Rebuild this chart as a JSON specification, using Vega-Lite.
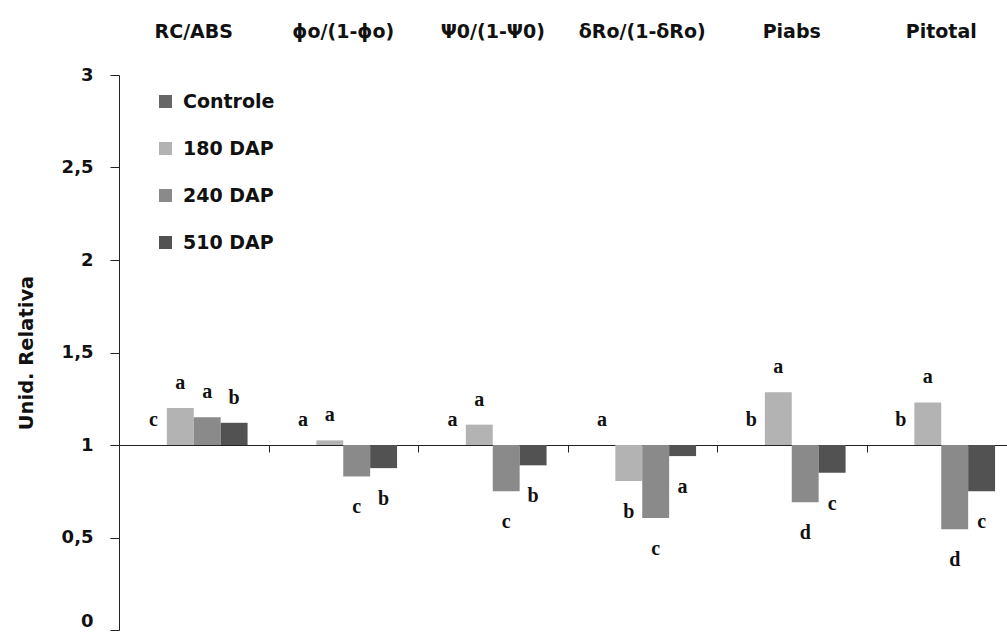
{
  "$schema": "https://vega.github.io/schema/vega-lite/v6.json",
  "width": 888,
  "height": 555,
  "autosize": {"type": "none"},
  "padding": {"left": 119, "top": 75, "right": 0, "bottom": 5},
  "background": "white",
  "config": {"view": {"stroke": null}, "font": "DejaVu Sans"},
  "data": {
    "values": [
      {"parametro": "RC/ABS", "trat": "Controle", "valor": 1.0, "letra": "c"},
      {"parametro": "RC/ABS", "trat": "180 DAP", "valor": 1.2, "letra": "a"},
      {"parametro": "RC/ABS", "trat": "240 DAP", "valor": 1.15, "letra": "a"},
      {"parametro": "RC/ABS", "trat": "510 DAP", "valor": 1.12, "letra": "b"},
      {"parametro": "ϕo/(1-ϕo)", "trat": "Controle", "valor": 1.0, "letra": "a"},
      {"parametro": "ϕo/(1-ϕo)", "trat": "180 DAP", "valor": 1.025, "letra": "a"},
      {"parametro": "ϕo/(1-ϕo)", "trat": "240 DAP", "valor": 0.83, "letra": "c"},
      {"parametro": "ϕo/(1-ϕo)", "trat": "510 DAP", "valor": 0.875, "letra": "b"},
      {"parametro": "Ψ0/(1-Ψ0)", "trat": "Controle", "valor": 1.0, "letra": "a"},
      {"parametro": "Ψ0/(1-Ψ0)", "trat": "180 DAP", "valor": 1.11, "letra": "a"},
      {"parametro": "Ψ0/(1-Ψ0)", "trat": "240 DAP", "valor": 0.75, "letra": "c"},
      {"parametro": "Ψ0/(1-Ψ0)", "trat": "510 DAP", "valor": 0.89, "letra": "b"},
      {"parametro": "δRo/(1-δRo)", "trat": "Controle", "valor": 1.0, "letra": "a"},
      {"parametro": "δRo/(1-δRo)", "trat": "180 DAP", "valor": 0.805, "letra": "b"},
      {"parametro": "δRo/(1-δRo)", "trat": "240 DAP", "valor": 0.605, "letra": "c"},
      {"parametro": "δRo/(1-δRo)", "trat": "510 DAP", "valor": 0.94, "letra": "a"},
      {"parametro": "Piabs", "trat": "Controle", "valor": 1.0, "letra": "b"},
      {"parametro": "Piabs", "trat": "180 DAP", "valor": 1.285, "letra": "a"},
      {"parametro": "Piabs", "trat": "240 DAP", "valor": 0.69, "letra": "d"},
      {"parametro": "Piabs", "trat": "510 DAP", "valor": 0.85, "letra": "c"},
      {"parametro": "Pitotal", "trat": "Controle", "valor": 1.0, "letra": "b"},
      {"parametro": "Pitotal", "trat": "180 DAP", "valor": 1.23, "letra": "a"},
      {"parametro": "Pitotal", "trat": "240 DAP", "valor": 0.545, "letra": "d"},
      {"parametro": "Pitotal", "trat": "510 DAP", "valor": 0.75, "letra": "c"}
    ]
  },
  "encoding": {
    "x": {
      "field": "parametro",
      "type": "nominal",
      "sort": ["RC/ABS", "ϕo/(1-ϕo)", "Ψ0/(1-Ψ0)", "δRo/(1-δRo)", "Piabs", "Pitotal"],
      "scale": {"range": [0, 897], "paddingInner": 0.28, "paddingOuter": 0.14},
      "axis": {
        "orient": "top",
        "title": null,
        "domain": false,
        "ticks": false,
        "labelAngle": 0,
        "labelFont": "DejaVu Sans",
        "labelFontSize": 19,
        "labelFontWeight": "bold",
        "labelColor": "#111111",
        "labelBaseline": "alphabetic",
        "labelPadding": 38
      }
    },
    "xOffset": {
      "field": "trat",
      "type": "nominal",
      "sort": ["Controle", "180 DAP", "240 DAP", "510 DAP"],
      "scale": {"paddingInner": 0, "paddingOuter": 0}
    },
    "y": {
      "field": "valor",
      "type": "quantitative",
      "scale": {"domain": [0, 3], "nice": false, "zero": false},
      "axis": {
        "values": [0, 0.5, 1, 1.5, 2, 2.5, 3],
        "format": "~g",
        "labelExpr": "replace(datum.label, '.', ',')",
        "labelBaseline": {"condition": {"test": "datum.value == 0", "value": "bottom"}, "value": "middle"},
        "grid": false,
        "domainColor": "#222222",
        "tickColor": "#222222",
        "tickSize": 9,
        "labelPadding": 17,
        "labelFont": "DejaVu Sans",
        "labelFontSize": 18,
        "labelFontWeight": "bold",
        "labelColor": "#111111",
        "title": "Unid. Relativa",
        "titleFont": "DejaVu Sans",
        "titleFontSize": 19.5,
        "titleFontWeight": "bold",
        "titleColor": "#111111",
        "titlePadding": 25
      }
    }
  },
  "layer": [
    {
      "mark": {"type": "bar"},
      "encoding": {
        "y2": {"datum": 1},
        "color": {
          "field": "trat",
          "type": "nominal",
          "sort": ["Controle", "180 DAP", "240 DAP", "510 DAP"],
          "scale": {
            "domain": ["Controle", "180 DAP", "240 DAP", "510 DAP"],
            "range": ["#666666", "#b3b3b3", "#8a8a8a", "#525252"]
          },
          "legend": {
            "orient": "none",
            "legendX": 37,
            "legendY": 17,
            "title": null,
            "symbolType": "square",
            "symbolSize": 169,
            "symbolStrokeWidth": 0,
            "labelFont": "DejaVu Sans",
            "labelFontSize": 19,
            "labelFontWeight": "bold",
            "labelColor": "#111111",
            "labelOffset": 8,
            "rowPadding": 27
          }
        }
      }
    },
    {
      "transform": [{"filter": "datum.valor >= 1"}],
      "mark": {"type": "text", "dy": -25, "baseline": "middle", "font": "Liberation Serif", "fontSize": 20, "fontWeight": "bold", "color": "#111111"},
      "encoding": {
        "x": {
          "field": "parametro",
          "type": "nominal",
          "sort": ["RC/ABS", "ϕo/(1-ϕo)", "Ψ0/(1-Ψ0)", "δRo/(1-δRo)", "Piabs", "Pitotal"],
          "scale": {"range": [0, 897], "paddingInner": 0.28, "paddingOuter": 0.14},
          "axis": {
            "orient": "bottom",
            "offset": -185,
            "title": null,
            "labels": false,
            "tickOffset": 74.75,
            "tickSize": 7,
            "tickColor": "#222222",
            "domainColor": "#222222"
          }
        },
        "text": {"field": "letra"}
      }
    },
    {
      "transform": [{"filter": "datum.valor < 1"}],
      "mark": {"type": "text", "dy": 31, "baseline": "middle", "font": "Liberation Serif", "fontSize": 20, "fontWeight": "bold", "color": "#111111"},
      "encoding": {
        "x": {
          "field": "parametro",
          "type": "nominal",
          "sort": ["RC/ABS", "ϕo/(1-ϕo)", "Ψ0/(1-Ψ0)", "δRo/(1-δRo)", "Piabs", "Pitotal"],
          "scale": {"range": [0, 897], "paddingInner": 0.28, "paddingOuter": 0.14},
          "axis": null
        },
        "text": {"field": "letra"}
      }
    }
  ]
}
